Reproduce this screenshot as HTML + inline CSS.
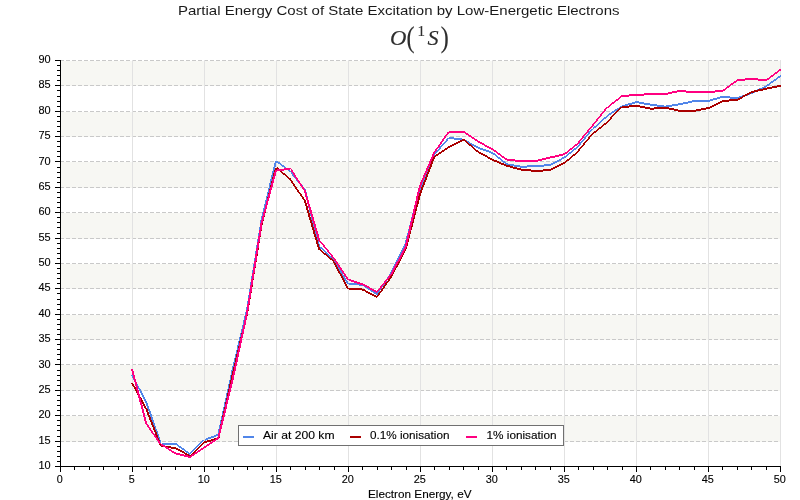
<!DOCTYPE html>
<html><head><meta charset="utf-8"><title>Partial Energy Cost of State Excitation by Low-Energetic Electrons</title>
<style>html,body{margin:0;padding:0;background:#fff;}body{width:800px;height:500px;overflow:hidden;font-family:"Liberation Sans",sans-serif;}svg{display:block;position:absolute;left:0;top:0;will-change:transform}text{font-family:"Liberation Sans",sans-serif;fill:#000;stroke:#000;stroke-width:0.12px}.s{font-family:"Liberation Serif",serif;fill:#2e2e2e}</style>
</head><body>
<svg width="800" height="500" viewBox="0 0 800 500">
<rect x="0" y="0" width="800" height="500" fill="#ffffff"/>
<g shape-rendering="crispEdges">
<rect x="61" y="61" width="720" height="25" fill="#f7f7f3"/>
<rect x="61" y="112" width="720" height="25" fill="#f7f7f3"/>
<rect x="61" y="162" width="720" height="26" fill="#f7f7f3"/>
<rect x="61" y="213" width="720" height="26" fill="#f7f7f3"/>
<rect x="61" y="264" width="720" height="25" fill="#f7f7f3"/>
<rect x="61" y="315" width="720" height="25" fill="#f7f7f3"/>
<rect x="61" y="365" width="720" height="26" fill="#f7f7f3"/>
<rect x="61" y="416" width="720" height="26" fill="#f7f7f3"/>
<line x1="60" y1="441.5" x2="780" y2="441.5" stroke="#c9c9c9" stroke-width="1" stroke-dasharray="4 2"/>
<line x1="60" y1="415.5" x2="780" y2="415.5" stroke="#c9c9c9" stroke-width="1" stroke-dasharray="4 2"/>
<line x1="60" y1="390.5" x2="780" y2="390.5" stroke="#c9c9c9" stroke-width="1" stroke-dasharray="4 2"/>
<line x1="60" y1="364.5" x2="780" y2="364.5" stroke="#c9c9c9" stroke-width="1" stroke-dasharray="4 2"/>
<line x1="60" y1="339.5" x2="780" y2="339.5" stroke="#c9c9c9" stroke-width="1" stroke-dasharray="4 2"/>
<line x1="60" y1="314.5" x2="780" y2="314.5" stroke="#c9c9c9" stroke-width="1" stroke-dasharray="4 2"/>
<line x1="60" y1="288.5" x2="780" y2="288.5" stroke="#c9c9c9" stroke-width="1" stroke-dasharray="4 2"/>
<line x1="60" y1="263.5" x2="780" y2="263.5" stroke="#c9c9c9" stroke-width="1" stroke-dasharray="4 2"/>
<line x1="60" y1="238.5" x2="780" y2="238.5" stroke="#c9c9c9" stroke-width="1" stroke-dasharray="4 2"/>
<line x1="60" y1="212.5" x2="780" y2="212.5" stroke="#c9c9c9" stroke-width="1" stroke-dasharray="4 2"/>
<line x1="60" y1="187.5" x2="780" y2="187.5" stroke="#c9c9c9" stroke-width="1" stroke-dasharray="4 2"/>
<line x1="60" y1="161.5" x2="780" y2="161.5" stroke="#c9c9c9" stroke-width="1" stroke-dasharray="4 2"/>
<line x1="60" y1="136.5" x2="780" y2="136.5" stroke="#c9c9c9" stroke-width="1" stroke-dasharray="4 2"/>
<line x1="60" y1="111.5" x2="780" y2="111.5" stroke="#c9c9c9" stroke-width="1" stroke-dasharray="4 2"/>
<line x1="60" y1="85.5" x2="780" y2="85.5" stroke="#c9c9c9" stroke-width="1" stroke-dasharray="4 2"/>
<line x1="60" y1="60.5" x2="780" y2="60.5" stroke="#c9c9c9" stroke-width="1" stroke-dasharray="4 2"/>
<rect x="132" y="60" width="1" height="406" fill="#e2e2e2"/>
<rect x="204" y="60" width="1" height="406" fill="#e2e2e2"/>
<rect x="276" y="60" width="1" height="406" fill="#e2e2e2"/>
<rect x="348" y="60" width="1" height="406" fill="#e2e2e2"/>
<rect x="420" y="60" width="1" height="406" fill="#e2e2e2"/>
<rect x="492" y="60" width="1" height="406" fill="#e2e2e2"/>
<rect x="564" y="60" width="1" height="406" fill="#e2e2e2"/>
<rect x="636" y="60" width="1" height="406" fill="#e2e2e2"/>
<rect x="708" y="60" width="1" height="406" fill="#e2e2e2"/>
<rect x="780" y="60" width="1" height="406" fill="#e2e2e2"/>
</g>
<g stroke="none" shape-rendering="crispEdges">
<path fill="#5186e9" d="M131.0 375.2L145.4 402.6L147.4 402.6L133.0 375.2ZM145.4 402.6L159.8 443.7L161.8 443.7L147.4 402.6ZM161.3 442.7L175.7 442.7L175.7 444.7L161.3 444.7ZM175.7 442.7L190.1 453.3L190.1 455.3L175.7 444.7ZM188.6 454.3L203.0 439.9L205.0 439.9L190.6 454.3ZM204.5 438.9L218.9 433.5L218.9 435.5L204.5 440.9ZM217.4 434.5L231.8 369.1L233.8 369.1L219.4 434.5ZM231.8 369.1L246.2 309.2L248.2 309.2L233.8 369.1ZM246.2 309.2L260.6 219.9L262.6 219.9L248.2 309.2ZM260.6 219.9L275.0 161.0L277.0 161.0L262.6 219.9ZM276.5 160.0L290.9 170.9L290.9 172.9L276.5 162.0ZM289.4 171.9L303.8 189.4L305.8 189.4L291.4 171.9ZM303.8 189.4L318.2 246.8L320.2 246.8L305.8 189.4ZM319.7 245.8L334.1 259.0L334.1 261.0L319.7 247.8ZM332.6 260.0L347.0 283.8L349.0 283.8L334.6 260.0ZM348.5 282.8L362.9 283.8L362.9 285.8L348.5 284.8ZM362.9 283.8L377.3 293.5L377.3 295.5L362.9 285.8ZM375.8 294.5L390.2 273.1L392.2 273.1L377.8 294.5ZM390.2 273.1L404.6 243.7L406.6 243.7L392.2 273.1ZM404.6 243.7L419.0 188.4L421.0 188.4L406.6 243.7ZM419.0 188.4L433.4 154.4L435.4 154.4L421.0 188.4ZM433.4 154.4L447.8 137.9L449.8 137.9L435.4 154.4ZM449.3 136.9L463.7 138.7L463.7 140.7L449.3 138.9ZM463.7 138.7L478.1 146.8L478.1 148.8L463.7 140.7ZM478.1 146.8L492.5 151.9L492.5 153.9L478.1 148.8ZM492.5 151.9L506.9 163.3L506.9 165.3L492.5 153.9ZM506.9 163.3L521.3 165.8L521.3 167.8L506.9 165.3ZM521.3 165.8L535.7 165.1L535.7 167.1L521.3 167.8ZM535.7 165.1L550.1 164.1L550.1 166.1L535.7 167.1ZM550.1 164.1L564.5 156.4L564.5 158.4L550.1 166.1ZM564.5 156.4L578.9 145.0L578.9 147.0L564.5 158.4ZM577.4 146.0L591.8 128.5L593.8 128.5L579.4 146.0ZM593.3 127.5L607.7 114.6L607.7 116.6L593.3 129.5ZM607.7 114.6L622.1 105.2L622.1 107.2L607.7 116.6ZM622.1 105.2L636.5 101.1L636.5 103.1L622.1 107.2ZM636.5 101.1L650.9 103.7L650.9 105.7L636.5 103.1ZM650.9 103.7L665.3 105.7L665.3 107.7L650.9 105.7ZM665.3 105.7L679.7 103.2L679.7 105.2L665.3 107.7ZM679.7 103.2L694.1 100.1L694.1 102.1L679.7 105.2ZM694.1 100.1L708.5 99.9L708.5 101.9L694.1 102.1ZM708.5 99.9L722.9 95.7L722.9 97.7L708.5 101.9ZM722.9 95.7L737.3 97.3L737.3 99.3L722.9 97.7ZM737.3 97.3L751.7 92.0L751.7 94.0L737.3 99.3ZM751.7 92.0L766.1 85.4L766.1 87.4L751.7 94.0ZM766.1 85.4L781.1 74.6L781.1 76.6L766.1 87.4Z"/>
<path fill="#aa0000" d="M131.0 382.8L145.4 409.2L147.4 409.2L133.0 382.8ZM145.4 409.2L159.8 446.0L161.8 446.0L147.4 409.2ZM161.3 445.0L175.7 447.2L175.7 449.2L161.3 447.0ZM175.7 447.2L190.1 455.1L190.1 457.1L175.7 449.2ZM190.1 455.1L204.5 441.4L204.5 443.4L190.1 457.1ZM204.5 441.4L218.9 437.1L218.9 439.1L204.5 443.4ZM217.4 438.1L231.8 374.1L233.8 374.1L219.4 438.1ZM231.8 374.1L246.2 313.2L248.2 313.2L233.8 374.1ZM246.2 313.2L260.6 224.4L262.6 224.4L248.2 313.2ZM260.6 224.4L275.0 167.6L277.0 167.6L262.6 224.4ZM276.5 166.6L290.9 178.8L290.9 180.8L276.5 168.6ZM289.4 179.8L303.8 200.6L305.8 200.6L291.4 179.8ZM303.8 200.6L318.2 249.6L320.2 249.6L305.8 200.6ZM319.7 248.6L334.1 260.5L334.1 262.5L319.7 250.6ZM332.6 261.5L347.0 288.6L349.0 288.6L334.6 261.5ZM348.5 287.6L362.9 288.6L362.9 290.6L348.5 289.6ZM362.9 288.6L377.3 296.3L377.3 298.3L362.9 290.6ZM375.8 297.3L390.2 276.7L392.2 276.7L377.8 297.3ZM390.2 276.7L404.6 249.3L406.6 249.3L392.2 276.7ZM404.6 249.3L419.0 194.0L421.0 194.0L406.6 249.3ZM419.0 194.0L433.4 156.4L435.4 156.4L421.0 194.0ZM434.9 155.4L449.3 145.8L449.3 147.8L434.9 157.4ZM449.3 145.8L463.7 138.7L463.7 140.7L449.3 147.8ZM463.7 138.7L478.1 150.9L478.1 152.9L463.7 140.7ZM478.1 150.9L492.5 158.7L492.5 160.7L478.1 152.9ZM492.5 158.7L506.9 164.8L506.9 166.8L492.5 160.7ZM506.9 164.8L521.3 168.6L521.3 170.6L506.9 166.8ZM521.3 168.6L535.7 169.9L535.7 171.9L521.3 170.6ZM535.7 169.9L550.1 169.1L550.1 171.1L535.7 171.9ZM550.1 169.1L564.5 162.0L564.5 164.0L550.1 171.1ZM564.5 162.0L578.9 149.8L578.9 151.8L564.5 164.0ZM577.4 150.8L591.8 133.3L593.8 133.3L579.4 150.8ZM593.3 132.3L607.7 120.9L607.7 122.9L593.3 134.3ZM606.2 121.9L620.6 107.2L622.6 107.2L608.2 121.9ZM622.1 106.2L636.5 104.7L636.5 106.7L622.1 108.2ZM636.5 104.7L650.9 107.7L650.9 109.7L636.5 106.7ZM650.9 107.7L665.3 106.7L665.3 108.7L650.9 109.7ZM665.3 106.7L679.7 109.8L679.7 111.8L665.3 108.7ZM679.7 109.8L694.1 110.0L694.1 112.0L679.7 111.8ZM694.1 110.0L708.5 107.0L708.5 109.0L694.1 112.0ZM708.5 107.0L722.9 100.1L722.9 102.1L708.5 109.0ZM722.9 100.1L737.3 98.8L737.3 100.8L722.9 102.1ZM737.3 98.8L751.7 91.1L751.7 93.1L737.3 100.8ZM751.7 91.1L766.1 87.7L766.1 89.7L751.7 93.1ZM766.1 87.7L781.1 84.8L781.1 86.8L766.1 89.7Z"/>
<path fill="#ff0080" d="M131.0 369.1L145.4 423.9L147.4 423.9L133.0 369.1ZM145.4 423.9L159.8 444.4L161.8 444.4L147.4 423.9ZM161.3 443.4L175.7 452.6L175.7 454.6L161.3 445.4ZM175.7 452.6L190.1 455.9L190.1 457.9L175.7 454.6ZM190.1 455.9L204.5 446.2L204.5 448.2L190.1 457.9ZM204.5 446.2L218.9 436.6L218.9 438.6L204.5 448.2ZM217.4 437.6L231.8 378.7L233.8 378.7L219.4 437.6ZM231.8 378.7L246.2 312.2L248.2 312.2L233.8 378.7ZM246.2 312.2L260.6 222.9L262.6 222.9L248.2 312.2ZM260.6 222.9L275.0 170.4L277.0 170.4L262.6 222.9ZM276.5 169.4L290.9 167.6L290.9 169.6L276.5 171.4ZM289.4 168.6L303.8 190.9L305.8 190.9L291.4 168.6ZM303.8 190.9L318.2 240.2L320.2 240.2L305.8 190.9ZM318.2 240.2L332.6 257.9L334.6 257.9L320.2 240.2ZM332.6 257.9L347.0 279.7L349.0 279.7L334.6 257.9ZM348.5 278.7L362.9 283.3L362.9 285.3L348.5 280.7ZM362.9 283.3L377.3 291.4L377.3 293.4L362.9 285.3ZM375.8 292.4L390.2 274.2L392.2 274.2L377.8 292.4ZM390.2 274.2L404.6 247.3L406.6 247.3L392.2 274.2ZM404.6 247.3L419.0 185.9L421.0 185.9L406.6 247.3ZM419.0 185.9L433.4 152.4L435.4 152.4L421.0 185.9ZM433.4 152.4L447.8 131.8L449.8 131.8L435.4 152.4ZM449.3 130.8L463.7 130.8L463.7 132.8L449.3 132.8ZM463.7 130.8L478.1 140.5L478.1 142.5L463.7 132.8ZM478.1 140.5L492.5 148.3L492.5 150.3L478.1 142.5ZM492.5 148.3L506.9 158.7L506.9 160.7L492.5 150.3ZM506.9 158.7L521.3 160.1L521.3 162.1L506.9 160.7ZM521.3 160.1L535.7 160.1L535.7 162.1L521.3 162.1ZM535.7 160.1L550.1 156.6L550.1 158.6L535.7 162.1ZM550.1 156.6L564.5 153.1L564.5 155.1L550.1 158.6ZM564.5 153.1L578.9 141.7L578.9 143.7L564.5 155.1ZM577.4 142.7L591.8 125.2L593.8 125.2L579.4 142.7ZM591.8 125.2L606.2 107.2L608.2 107.2L593.8 125.2ZM607.7 106.2L622.1 95.0L622.1 97.0L607.7 108.2ZM622.1 95.0L636.5 94.0L636.5 96.0L622.1 97.0ZM636.5 94.0L650.9 93.0L650.9 95.0L636.5 96.0ZM650.9 93.0L665.3 93.0L665.3 95.0L650.9 95.0ZM665.3 93.0L679.7 90.0L679.7 92.0L665.3 95.0ZM679.7 90.0L694.1 91.1L694.1 93.1L679.7 92.0ZM694.1 91.1L708.5 91.1L708.5 93.1L694.1 93.1ZM708.5 91.1L722.9 89.7L722.9 91.7L708.5 93.1ZM722.9 89.7L737.3 79.3L737.3 81.3L722.9 91.7ZM737.3 79.3L751.7 77.8L751.7 79.8L737.3 81.3ZM751.7 77.8L766.1 79.3L766.1 81.3L751.7 79.8ZM766.1 79.3L781.1 68.2L781.1 70.2L766.1 81.3Z"/>
</g>
<g shape-rendering="crispEdges" fill="#000">
<rect x="60" y="60" width="1" height="407"/>
<rect x="60" y="466" width="721" height="1"/>
<rect x="55" y="466" width="5" height="1"/>
<rect x="57" y="461" width="3" height="1"/>
<rect x="57" y="456" width="3" height="1"/>
<rect x="57" y="451" width="3" height="1"/>
<rect x="57" y="446" width="3" height="1"/>
<rect x="55" y="441" width="5" height="1"/>
<rect x="57" y="436" width="3" height="1"/>
<rect x="57" y="430" width="3" height="1"/>
<rect x="57" y="425" width="3" height="1"/>
<rect x="57" y="420" width="3" height="1"/>
<rect x="55" y="415" width="5" height="1"/>
<rect x="57" y="410" width="3" height="1"/>
<rect x="57" y="405" width="3" height="1"/>
<rect x="57" y="400" width="3" height="1"/>
<rect x="57" y="395" width="3" height="1"/>
<rect x="55" y="390" width="5" height="1"/>
<rect x="57" y="385" width="3" height="1"/>
<rect x="57" y="380" width="3" height="1"/>
<rect x="57" y="375" width="3" height="1"/>
<rect x="57" y="370" width="3" height="1"/>
<rect x="55" y="364" width="5" height="1"/>
<rect x="57" y="359" width="3" height="1"/>
<rect x="57" y="354" width="3" height="1"/>
<rect x="57" y="349" width="3" height="1"/>
<rect x="57" y="344" width="3" height="1"/>
<rect x="55" y="339" width="5" height="1"/>
<rect x="57" y="334" width="3" height="1"/>
<rect x="57" y="329" width="3" height="1"/>
<rect x="57" y="324" width="3" height="1"/>
<rect x="57" y="319" width="3" height="1"/>
<rect x="55" y="314" width="5" height="1"/>
<rect x="57" y="309" width="3" height="1"/>
<rect x="57" y="304" width="3" height="1"/>
<rect x="57" y="299" width="3" height="1"/>
<rect x="57" y="293" width="3" height="1"/>
<rect x="55" y="288" width="5" height="1"/>
<rect x="57" y="283" width="3" height="1"/>
<rect x="57" y="278" width="3" height="1"/>
<rect x="57" y="273" width="3" height="1"/>
<rect x="57" y="268" width="3" height="1"/>
<rect x="55" y="263" width="5" height="1"/>
<rect x="57" y="258" width="3" height="1"/>
<rect x="57" y="253" width="3" height="1"/>
<rect x="57" y="248" width="3" height="1"/>
<rect x="57" y="243" width="3" height="1"/>
<rect x="55" y="238" width="5" height="1"/>
<rect x="57" y="233" width="3" height="1"/>
<rect x="57" y="227" width="3" height="1"/>
<rect x="57" y="222" width="3" height="1"/>
<rect x="57" y="217" width="3" height="1"/>
<rect x="55" y="212" width="5" height="1"/>
<rect x="57" y="207" width="3" height="1"/>
<rect x="57" y="202" width="3" height="1"/>
<rect x="57" y="197" width="3" height="1"/>
<rect x="57" y="192" width="3" height="1"/>
<rect x="55" y="187" width="5" height="1"/>
<rect x="57" y="182" width="3" height="1"/>
<rect x="57" y="177" width="3" height="1"/>
<rect x="57" y="172" width="3" height="1"/>
<rect x="57" y="167" width="3" height="1"/>
<rect x="55" y="161" width="5" height="1"/>
<rect x="57" y="156" width="3" height="1"/>
<rect x="57" y="151" width="3" height="1"/>
<rect x="57" y="146" width="3" height="1"/>
<rect x="57" y="141" width="3" height="1"/>
<rect x="55" y="136" width="5" height="1"/>
<rect x="57" y="131" width="3" height="1"/>
<rect x="57" y="126" width="3" height="1"/>
<rect x="57" y="121" width="3" height="1"/>
<rect x="57" y="116" width="3" height="1"/>
<rect x="55" y="111" width="5" height="1"/>
<rect x="57" y="106" width="3" height="1"/>
<rect x="57" y="101" width="3" height="1"/>
<rect x="57" y="96" width="3" height="1"/>
<rect x="57" y="90" width="3" height="1"/>
<rect x="55" y="85" width="5" height="1"/>
<rect x="57" y="80" width="3" height="1"/>
<rect x="57" y="75" width="3" height="1"/>
<rect x="57" y="70" width="3" height="1"/>
<rect x="57" y="65" width="3" height="1"/>
<rect x="55" y="60" width="5" height="1"/>
<rect x="60" y="467" width="1" height="5"/>
<rect x="74" y="467" width="1" height="3"/>
<rect x="89" y="467" width="1" height="3"/>
<rect x="103" y="467" width="1" height="3"/>
<rect x="118" y="467" width="1" height="3"/>
<rect x="132" y="467" width="1" height="5"/>
<rect x="146" y="467" width="1" height="3"/>
<rect x="161" y="467" width="1" height="3"/>
<rect x="175" y="467" width="1" height="3"/>
<rect x="190" y="467" width="1" height="3"/>
<rect x="204" y="467" width="1" height="5"/>
<rect x="218" y="467" width="1" height="3"/>
<rect x="233" y="467" width="1" height="3"/>
<rect x="247" y="467" width="1" height="3"/>
<rect x="262" y="467" width="1" height="3"/>
<rect x="276" y="467" width="1" height="5"/>
<rect x="290" y="467" width="1" height="3"/>
<rect x="305" y="467" width="1" height="3"/>
<rect x="319" y="467" width="1" height="3"/>
<rect x="334" y="467" width="1" height="3"/>
<rect x="348" y="467" width="1" height="5"/>
<rect x="362" y="467" width="1" height="3"/>
<rect x="377" y="467" width="1" height="3"/>
<rect x="391" y="467" width="1" height="3"/>
<rect x="406" y="467" width="1" height="3"/>
<rect x="420" y="467" width="1" height="5"/>
<rect x="434" y="467" width="1" height="3"/>
<rect x="449" y="467" width="1" height="3"/>
<rect x="463" y="467" width="1" height="3"/>
<rect x="478" y="467" width="1" height="3"/>
<rect x="492" y="467" width="1" height="5"/>
<rect x="506" y="467" width="1" height="3"/>
<rect x="521" y="467" width="1" height="3"/>
<rect x="535" y="467" width="1" height="3"/>
<rect x="550" y="467" width="1" height="3"/>
<rect x="564" y="467" width="1" height="5"/>
<rect x="578" y="467" width="1" height="3"/>
<rect x="593" y="467" width="1" height="3"/>
<rect x="607" y="467" width="1" height="3"/>
<rect x="622" y="467" width="1" height="3"/>
<rect x="636" y="467" width="1" height="5"/>
<rect x="650" y="467" width="1" height="3"/>
<rect x="665" y="467" width="1" height="3"/>
<rect x="679" y="467" width="1" height="3"/>
<rect x="694" y="467" width="1" height="3"/>
<rect x="708" y="467" width="1" height="5"/>
<rect x="722" y="467" width="1" height="3"/>
<rect x="737" y="467" width="1" height="3"/>
<rect x="751" y="467" width="1" height="3"/>
<rect x="766" y="467" width="1" height="3"/>
<rect x="780" y="467" width="1" height="5"/>
</g>
<g font-size="11.3" text-anchor="end">
<text x="50.7" y="469.0" textLength="12.2" lengthAdjust="spacingAndGlyphs">10</text>
<text x="50.7" y="443.6" textLength="12.2" lengthAdjust="spacingAndGlyphs">15</text>
<text x="50.7" y="418.2" textLength="12.2" lengthAdjust="spacingAndGlyphs">20</text>
<text x="50.7" y="392.9" textLength="12.2" lengthAdjust="spacingAndGlyphs">25</text>
<text x="50.7" y="367.5" textLength="12.2" lengthAdjust="spacingAndGlyphs">30</text>
<text x="50.7" y="342.1" textLength="12.2" lengthAdjust="spacingAndGlyphs">35</text>
<text x="50.7" y="316.8" textLength="12.2" lengthAdjust="spacingAndGlyphs">40</text>
<text x="50.7" y="291.4" textLength="12.2" lengthAdjust="spacingAndGlyphs">45</text>
<text x="50.7" y="266.0" textLength="12.2" lengthAdjust="spacingAndGlyphs">50</text>
<text x="50.7" y="240.6" textLength="12.2" lengthAdjust="spacingAndGlyphs">55</text>
<text x="50.7" y="215.2" textLength="12.2" lengthAdjust="spacingAndGlyphs">60</text>
<text x="50.7" y="189.9" textLength="12.2" lengthAdjust="spacingAndGlyphs">65</text>
<text x="50.7" y="164.5" textLength="12.2" lengthAdjust="spacingAndGlyphs">70</text>
<text x="50.7" y="139.1" textLength="12.2" lengthAdjust="spacingAndGlyphs">75</text>
<text x="50.7" y="113.8" textLength="12.2" lengthAdjust="spacingAndGlyphs">80</text>
<text x="50.7" y="88.4" textLength="12.2" lengthAdjust="spacingAndGlyphs">85</text>
<text x="50.7" y="63.0" textLength="12.2" lengthAdjust="spacingAndGlyphs">90</text>
</g>
<g font-size="11.3" text-anchor="middle">
<text x="59.7" y="483" textLength="6.0" lengthAdjust="spacingAndGlyphs">0</text>
<text x="131.7" y="483" textLength="6.0" lengthAdjust="spacingAndGlyphs">5</text>
<text x="203.7" y="483" textLength="12.1" lengthAdjust="spacingAndGlyphs">10</text>
<text x="275.7" y="483" textLength="12.1" lengthAdjust="spacingAndGlyphs">15</text>
<text x="347.7" y="483" textLength="12.1" lengthAdjust="spacingAndGlyphs">20</text>
<text x="419.7" y="483" textLength="12.1" lengthAdjust="spacingAndGlyphs">25</text>
<text x="491.7" y="483" textLength="12.1" lengthAdjust="spacingAndGlyphs">30</text>
<text x="563.7" y="483" textLength="12.1" lengthAdjust="spacingAndGlyphs">35</text>
<text x="635.7" y="483" textLength="12.1" lengthAdjust="spacingAndGlyphs">40</text>
<text x="707.7" y="483" textLength="12.1" lengthAdjust="spacingAndGlyphs">45</text>
<text x="779.7" y="483" textLength="12.1" lengthAdjust="spacingAndGlyphs">50</text>
</g>
<text x="368" y="498" font-size="11.3" textLength="103.5" lengthAdjust="spacingAndGlyphs">Electron Energy, eV</text>
<text x="178" y="14.7" font-size="13.6" textLength="441.5" lengthAdjust="spacingAndGlyphs" style="fill:#1a1a1a;stroke:none">Partial Energy Cost of State Excitation by Low-Energetic Electrons</text>
<g class="s" stroke="#2e2e2e" stroke-width="0.25">
<text transform="translate(389.9 45.3) scale(1.05 1)" x="0" y="0" font-size="21.6" font-style="italic" class="s">O</text>
<text x="406.4" y="47" font-size="29" class="s" textLength="8" lengthAdjust="spacingAndGlyphs">(</text>
<text x="417.6" y="35.7" font-size="15" class="s">1</text>
<text transform="translate(427.6 45.3) scale(1.03 1)" x="0" y="0" font-size="21.6" font-style="italic" class="s">S</text>
<text x="440.8" y="47" font-size="29" class="s" textLength="8" lengthAdjust="spacingAndGlyphs">)</text>
</g>
<rect x="238.5" y="425.5" width="325" height="20" fill="#fff" stroke="#707070" stroke-width="1" shape-rendering="crispEdges"/>
<g shape-rendering="crispEdges">
<rect x="243" y="436" width="11" height="2" fill="#5186e9"/>
<rect x="350" y="436" width="11" height="2" fill="#aa0000"/>
<rect x="466" y="436" width="11" height="2" fill="#ff0080"/>
</g>
<g font-size="11.3">
<text x="263" y="439" textLength="71.5" lengthAdjust="spacingAndGlyphs">Air at 200 km</text>
<text x="370" y="439" textLength="79.5" lengthAdjust="spacingAndGlyphs">0.1% ionisation</text>
<text x="486.5" y="439" textLength="70" lengthAdjust="spacingAndGlyphs">1% ionisation</text>
</g>
</svg>
</body></html>
